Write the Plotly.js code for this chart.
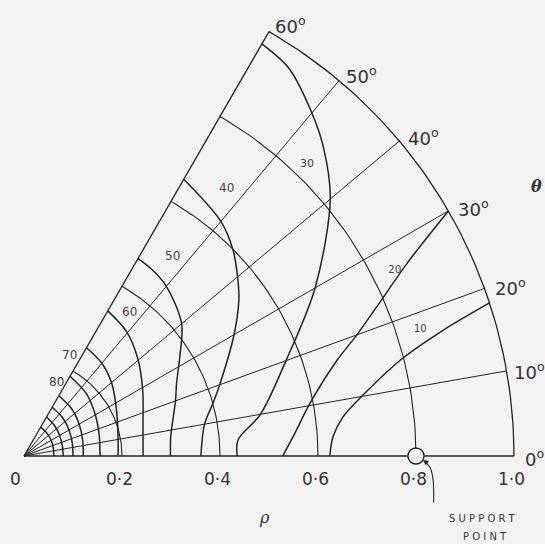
<!DOCTYPE html>
<html>
<head>
<meta charset="utf-8">
<script src="https://cdn.plot.ly/plotly-3.0.1.min.js"></script>
<style>
  html, body { margin: 0; padding: 0; background: #f2f2f2; }
  #chart { width: 545px; height: 544px; }
</style>
</head>
<body>
<div id="chart"></div>
<script>
// ---- polar frame of the sector ----
const sectorEdges = [0, 60];                 // bounding radii of the 60 degree sector
const spokeAngles = [10, 20, 30, 40, 50];    // interior radial lines (degrees)
const gridRadii = [0.2, 0.4, 0.6, 0.8];      // interior rho circles
const outerRadius = 1.0;
const rhoTicks = [0, 0.2, 0.4, 0.6, 0.8, 1.0];
const rhoTickText = ['0', '0·2', '0·4', '0·6', '0·8', '1·0'];
const angleTicks = [60, 50, 40, 30, 20, 10, 0];
const supportRho = 0.8;

// ---- level curves: theta (degrees) and rho along each curve ----
const levelNames = ['10', '20', '30', '40', '50', '60', '70', '80'];
const c10Theta = [0, 3.6, 7, 10.2, 14.5, 16.7, 18.2];
const c10Rho   = [0.624, 0.632, 0.656, 0.703, 0.799, 0.893, 1.0];
const c20Theta = [0, 4, 10.5, 17, 20, 23.75, 26.7, 30];
const c20Rho   = [0.528, 0.55, 0.594, 0.668, 0.723, 0.80, 0.875, 1.0];
const c30Theta = [0, 4.3, 10, 20, 30, 40, 45.9, 50, 55.6, 60];
const c30Rho   = [0.435, 0.438, 0.49, 0.569, 0.686, 0.816, 0.878, 0.914, 0.958, 0.971];
const c40Theta = [0, 10, 15.7, 20, 30, 36, 40, 44.6, 50, 60];
const c40Rho   = [0.361, 0.374, 0.401, 0.425, 0.495, 0.542, 0.569, 0.599, 0.625, 0.652];
const c50Theta = [0, 7.5, 20, 25.5, 32.5, 40, 50, 56, 60];
const c50Rho   = [0.299, 0.302, 0.329, 0.345, 0.377, 0.42, 0.452, 0.462, 0.465];
const c60Theta = [0, 15.5, 29, 40.7, 50.4, 60];
const c60Rho   = [0.243, 0.252, 0.277, 0.306, 0.329, 0.342];
const c70Theta = [0, 10, 20, 30, 40, 50, 60];
const c70Rho   = [0.192, 0.195, 0.203, 0.216, 0.233, 0.247, 0.255];
const c80Theta = [0, 15, 30, 45, 60];
const c80Rho   = [0.155, 0.159, 0.168, 0.18, 0.188];
// unlabelled inner curves near the centre
const innerTheta = [0, 15, 30, 45, 60];
const inner1Rho = [0.121, 0.124, 0.13, 0.137, 0.142];
const inner2Rho = [0.10, 0.102, 0.106, 0.111, 0.115];
const inner3Rho = [0.08, 0.081, 0.084, 0.088, 0.092];
const inner4Rho = [0.061, 0.062, 0.064, 0.066, 0.068];

const INK = '#242424';
const BG = '#f2f2f2';
const rad = d => d * Math.PI / 180;

function polarXY(thetaArr, rhoArr) {
  return {
    x: thetaArr.map((t, i) => rhoArr[i] * Math.cos(rad(t))),
    y: thetaArr.map((t, i) => rhoArr[i] * Math.sin(rad(t)))
  };
}

const traces = [];

// radial lines (sector edges + interior spokes)
sectorEdges.concat(spokeAngles).forEach(a => {
  const p = polarXY([a, a], [0, outerRadius]);
  traces.push({ x: p.x, y: p.y, mode: 'lines', hoverinfo: 'skip',
    line: { color: INK, width: sectorEdges.includes(a) ? 1.3 : 1.0 } });
});

// rho circles and outer rim, drawn across the sector
gridRadii.concat([outerRadius]).forEach(r => {
  const th = [];
  for (let t = 0; t <= 60; t += 1) th.push(t);
  const p = polarXY(th, th.map(() => r));
  traces.push({ x: p.x, y: p.y, mode: 'lines', hoverinfo: 'skip',
    line: { color: INK, width: r === outerRadius ? 1.3 : 1.1 } });
});

// level curves
const curves = [
  [c10Theta, c10Rho], [c20Theta, c20Rho], [c30Theta, c30Rho], [c40Theta, c40Rho],
  [c50Theta, c50Rho], [c60Theta, c60Rho], [c70Theta, c70Rho], [c80Theta, c80Rho],
  [innerTheta, inner1Rho], [innerTheta, inner2Rho], [innerTheta, inner3Rho], [innerTheta, inner4Rho]
];
curves.forEach(([th, rh]) => {
  const p = polarXY(th, rh);
  traces.push({ x: p.x, y: p.y, mode: 'lines', hoverinfo: 'skip',
    line: { color: INK, width: 1.5, shape: 'spline', smoothing: 0.9 } });
});

// support point
traces.push({ x: [supportRho], y: [0], mode: 'markers', hoverinfo: 'skip',
  marker: { size: 16, color: BG, line: { color: INK, width: 1.4 } } });

// pointer from the caption to the support
traces.push({ x: [0.836, 0.835, 0.829, 0.817], y: [-0.095, -0.05, -0.024, -0.01],
  mode: 'lines', hoverinfo: 'skip', line: { color: INK, width: 1.1, shape: 'spline' } });

const labelFont = { family: 'DejaVu Sans, sans-serif', color: '#333' };
const annotations = [];

// rho tick labels under the axis
rhoTicks.forEach((r, i) => {
  annotations.push({ x: r, y: 0, xref: 'x', yref: 'y', text: rhoTickText[i],
    showarrow: false, xanchor: 'center', yanchor: 'middle',
    xshift: i === 0 ? -9 : -3, yshift: -23,
    font: Object.assign({ size: 17 }, labelFont) });
});

// angle labels around the rim
angleTicks.forEach(a => {
  annotations.push({ x: 1.02 * Math.cos(rad(a)), y: 1.02 * Math.sin(rad(a)),
    xref: 'x', yref: 'y', text: a + '<sup>o</sup>', showarrow: false,
    xanchor: 'left', yanchor: 'middle', xshift: a === 10 ? -4 : -1, yshift: -2,
    font: Object.assign({ size: 18 }, labelFont) });
});

// level curve labels
const levelLabelPos = [
  [0.810, 0.261, 10], [0.757, 0.382, 10.5], [0.578, 0.596, 11], [0.414, 0.547, 12],
  [0.304, 0.408, 12], [0.216, 0.294, 12], [0.092, 0.206, 12], [0.067, 0.151, 12]
];
levelNames.forEach((name, i) => {
  const [lx, ly, fs] = levelLabelPos[i];
  annotations.push({ x: lx, y: ly, xref: 'x', yref: 'y', text: name, showarrow: false,
    xanchor: 'center', yanchor: 'middle',
    font: { family: 'DejaVu Sans, sans-serif', size: fs, color: '#444' } });
});

// axis symbols
annotations.push({ x: 0.49, y: -0.125, xref: 'x', yref: 'y', text: '<i>ρ</i>', showarrow: false,
  font: { family: 'DejaVu Serif, serif', size: 16, color: '#333' } });
annotations.push({ x: 1.045, y: 0.549, xref: 'x', yref: 'y', text: '<i><b>θ</b></i>', showarrow: false,
  font: { family: 'DejaVu Serif, serif', size: 16, color: '#333' } });

// caption for the support point
annotations.push({ x: 0.935, y: -0.128, xref: 'x', yref: 'y', text: 'S U P P O R T',
  showarrow: false, xanchor: 'center', yanchor: 'middle',
  font: { family: 'DejaVu Sans, sans-serif', size: 10, color: '#333' } });
annotations.push({ x: 0.94, y: -0.165, xref: 'x', yref: 'y', text: 'P O I N T',
  showarrow: false, xanchor: 'center', yanchor: 'middle',
  font: { family: 'DejaVu Sans, sans-serif', size: 10, color: '#333' } });

// arrow head on the pointer
annotations.push({ x: 0.814, y: -0.008, xref: 'x', yref: 'y', ax: 0.821, ay: -0.013,
  axref: 'x', ayref: 'y', text: '', showarrow: true, arrowhead: 2, arrowsize: 1,
  arrowwidth: 1.1, arrowcolor: INK });

const PX = 490;          // pixels per unit of rho
const originX = 24, originY = 456;
const layout = {
  width: 545, height: 544,
  margin: { l: 0, r: 0, t: 0, b: 0 },
  paper_bgcolor: BG, plot_bgcolor: BG,
  showlegend: false,
  xaxis: { range: [-originX / PX, (545 - originX) / PX], visible: false, fixedrange: true },
  yaxis: { range: [-(544 - originY) / PX, originY / PX], visible: false, fixedrange: true },
  annotations: annotations
};

Plotly.newPlot('chart', traces, layout, { staticPlot: true, displayModeBar: false });
</script>
</body>
</html>
